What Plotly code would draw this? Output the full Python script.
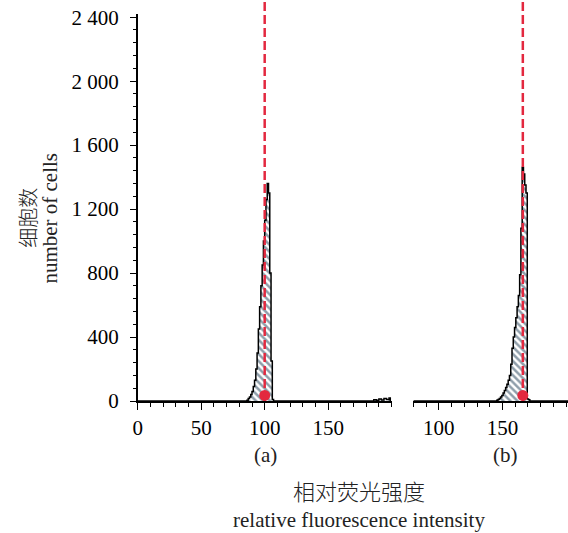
import plotly.graph_objects as go

# ---------------- data ----------------
# panel (a): histogram bin left edges and counts
a_x = [0, 86, 87, 88, 89, 90, 91, 92, 93, 94, 95, 96, 97, 98, 99, 100, 101, 102, 103, 104, 105, 106,
       107, 180, 186, 188, 190, 192, 194, 196, 198, 199]
a_y = [0, 5, 15, 25, 40, 60, 90, 130, 200, 300, 450, 590, 720, 850, 1000, 1130, 1260, 1360, 1300, 800, 250, 10,
       0, 0, 8, 4, 12, 6, 15, 10, 18, 0]
a_mark = 100
a_range = [0, 200]

# panel (b)
b_x = [80, 145.5, 146.5, 147.5, 148.5, 149.5, 150.5, 151.5, 152.5, 153.5, 154.5, 155.5, 156.5, 157.5, 158.5,
       159.5, 160.5, 161.5, 162.5, 163.5, 164.5, 165.5, 166.5, 167.5, 168.5, 169.5, 170.5, 171.5, 201.5]
b_y = [0, 5, 10, 15, 25, 35, 50, 65, 85, 105, 130, 160, 230, 330, 400, 460, 520, 590, 660, 790, 1080, 1460,
       1420, 1350, 1300, 12, 8, 0, 0]
b_mark = 166
b_range = [80, 201.5]

y_range = [0, 2420]
y_tickvals = [0, 400, 800, 1200, 1600, 2000, 2400]
y_ticktext = ["0", "400", "800", "1 200", "1 600", "2 000", "2 400"]
xa_tickvals = [0, 50, 100, 150]
xb_tickvals = [100, 150]

W, H = 568, 533
L_PX, T_PX, B_PX = 0, 14, 132
plot_h = H - T_PX - B_PX

def px2x(px):
    return px / W

def px2y(py):
    return (H - B_PX - py) / plot_h

SERIF = "Liberation Serif, Times New Roman, serif"
CJK = "Noto Sans CJK SC"
RED = "#e3283f"
HATCH = "#1f3d55"

fig = go.Figure()

for xs, ys, xa in [(a_x, a_y, "x"), (b_x, b_y, "x2")]:
    fig.add_trace(go.Scatter(
        x=xs, y=ys, xaxis=xa, yaxis="y", mode="lines", line_shape="hv",
        line=dict(color="black", width=1.5), fill="tozeroy", fillcolor="white",
        fillpattern=dict(shape="\\", fgcolor=HATCH, bgcolor="white", size=5, solidity=0.5),
        hoverinfo="skip", showlegend=False))

for m, xa in [(a_mark, "x"), (b_mark, "x2")]:
    fig.add_trace(go.Scatter(x=[m], y=[35], xaxis=xa, yaxis="y", mode="markers",
                             marker=dict(color=RED, size=11), showlegend=False, hoverinfo="skip"))
    fig.add_shape(type="line", xref=xa, yref="paper", x0=m, x1=m, y0=0, y1=1 + T_PX / plot_h,
                  line=dict(color=RED, width=2.5, dash="9px,4px"), layer="above")

axis_common = dict(showline=True, linecolor="black", linewidth=1.5, ticks="outside", ticklen=7,
                   tickwidth=1.3, tickcolor="black", showgrid=False, zeroline=False,
                   tickfont=dict(family=SERIF, size=21, color="black"),
                   minor=dict(ticks="outside", ticklen=4, tickwidth=1.1, tickcolor="black", dtick=10, tick0=0))

fig.update_layout(
    width=W, height=H, margin=dict(l=L_PX, r=0, t=T_PX, b=B_PX),
    paper_bgcolor="white", plot_bgcolor="white",
    xaxis=dict(domain=[134 / W, 390 / W], range=a_range, anchor="y", tickmode="array",
               tickvals=xa_tickvals, **axis_common),
    xaxis2=dict(domain=[412 / W, 1], range=b_range, anchor="y", tickmode="array",
                tickvals=xb_tickvals, **axis_common),
    yaxis=dict(range=y_range, showline=True, linecolor="black", linewidth=1.5, ticks="outside", ticklen=6,
               tickwidth=1.3, tickcolor="black", showgrid=False, zeroline=False, tickmode="array",
               tickvals=y_tickvals, ticktext=y_ticktext, ticklabelstandoff=7,
               tickfont=dict(family=SERIF, size=21, color="black"),
               minor=dict(ticks="outside", ticklen=3, tickwidth=1.1, tickcolor="black", dtick=80)),
)

anns = [
    ("(a)", 263, 455, 21, SERIF, 0),
    ("(b)", 505, 455, 21, SERIF, 0),
    ("相对荧光强度", 357, 490, 22, CJK, 0),
    ("relative fluorescence intensity", 357, 520, 21, SERIF, 0),
    ("细胞数", 22, 218, 20, CJK, -90),
    ("number of cells", 45, 218, 21, SERIF, -90),
]
for text, px, py, size, fam, ang in anns:
    fig.add_annotation(text=text, x=px2x(px), y=px2y(py), xref="paper", yref="paper",
                       xanchor="center", yanchor="middle", showarrow=False, textangle=ang,
                       font=dict(family=fam, size=size, color="#222", weight=300 if fam == CJK else 400))

fig.write_html("out.html", config={"displayModeBar": False},
               post_script="document.body.style.margin='0';document.body.style.padding='0';")
